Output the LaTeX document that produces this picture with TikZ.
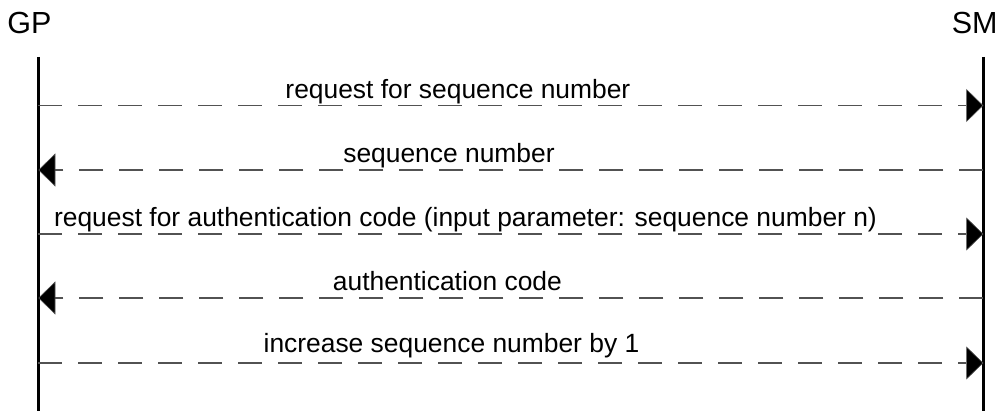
\documentclass[tikz,border=0pt]{standalone}
\usepackage{fontspec}
\setmainfont{Liberation Sans}
\usetikzlibrary{arrows.meta}
\begin{document}
\begin{tikzpicture}[x=1pt,y=-1pt,
  actor/.style={inner sep=0pt,anchor=base,font=\fontsize{30.5}{36}\selectfont},
  lifeline/.style={line width=3pt,black},
  msglabel/.style={inner sep=0pt,anchor=base,font=\fontsize{26.4}{31}\selectfont},
  msg/.style={line width=1.4pt,black!68,dash pattern=on 24pt off 16pt,
    -{Triangle[length=17pt,width=33pt,fill=black,line width=0.6pt]}}]
  \useasboundingbox (0,0) rectangle (1003,411);

  % participants
  \node[actor] (gp) at (29.5,33.5) {GP};
  \node[actor] (sm) at (974.7,33.5) {SM};

  % lifelines
  \coordinate (gtop) at (38.3,57);
  \coordinate (gbot) at (38.3,411);
  \coordinate (stop) at (983.3,57);
  \coordinate (sbot) at (983.3,411);
  \draw[lifeline] (gtop) -- (gbot);
  \draw[lifeline] (stop) -- (sbot);

  % message anchor points on the lifelines
  \foreach \i/\y in {1/105.5,2/170,3/234,4/298,5/363}{
    \coordinate (g\i) at (38.3,\y);
    \coordinate (s\i) at (983.3,\y);
  }

  % messages
  \draw[msg] (g1) -- (s1);
  \draw[msg] (s2) -- (g2);
  \draw[msg] (g3) -- (s3);
  \draw[msg] (s4) -- (g4);
  \draw[msg] (g5) -- (s5);

  % message labels
  \node[msglabel] (m1) at (457.9,98.2) {request for sequence number};
  \node[msglabel] (m2) at (449,162.2) {sequence number};
  \node[msglabel] (m3) at (465.5,226.5) {request for authentication code (input parameter: sequence number n)};
  \node[msglabel] (m4) at (447.4,290.5) {authentication code};
  \node[msglabel] (m5) at (451.5,352.2) {increase sequence number by 1};
\end{tikzpicture}
\end{document}
